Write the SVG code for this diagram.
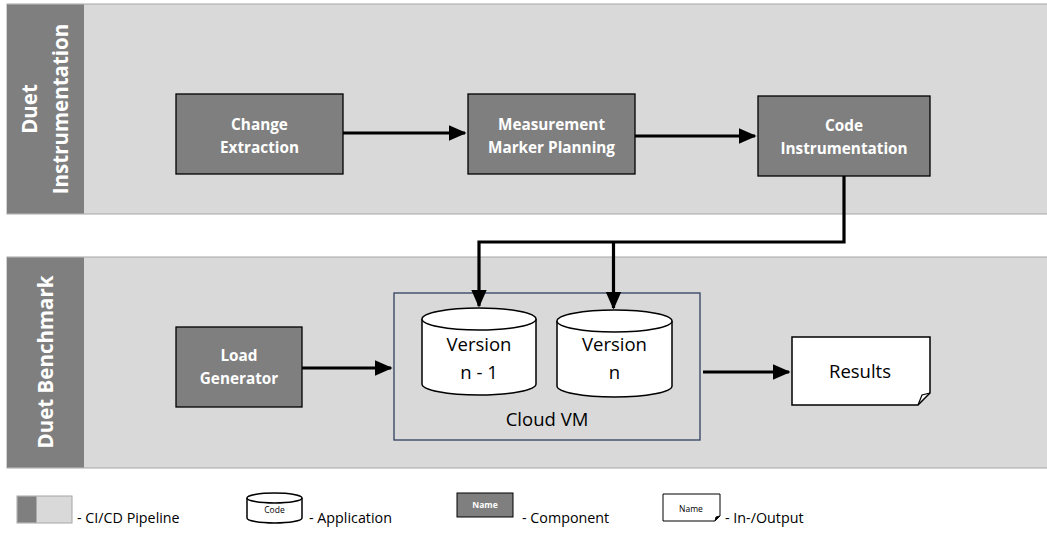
<svg xmlns="http://www.w3.org/2000/svg" width="1047" height="533" viewBox="0 0 1047 533">
<defs>
<style>
.lane{fill:#D9D9D9;stroke:#A6A6A6;stroke-width:1}
.lanehead{fill:#7F7F7F}
.lanetxt{font-family:"Open Sans",sans-serif;font-weight:bold;font-size:20.5px;fill:#FFFFFF;text-anchor:middle}
.comp{fill:#7F7F7F;stroke:#000;stroke-width:1.3}
.comptxt{font-family:"Open Sans",sans-serif;font-weight:bold;font-size:15.3px;fill:#FFFFFF;text-anchor:middle}
.app{fill:#FFFFFF;stroke:#000;stroke-width:1.5}
.apptxt{font-family:"Open Sans",sans-serif;font-size:18.5px;fill:#000;text-anchor:middle}
.conn{fill:none;stroke:#000;stroke-width:3.2}
.leg{font-family:"Open Sans",sans-serif;font-size:14.3px;fill:#000}
</style>
<marker id="ah" markerWidth="6" markerHeight="6" refX="5" refY="3" orient="auto" markerUnits="strokeWidth" viewBox="0 0 6 6">
<path d="M0,0.6 L5.5,3 L0,5.4 Z" fill="#000"/>
</marker>
</defs>
<rect width="1047" height="533" fill="#FFFFFF"/>

<g id="lane-instrumentation">
<rect class="lane" x="7" y="4" width="1045" height="210"/>
<rect class="lanehead" x="7" y="4.5" width="77" height="209"/>
<text class="lanetxt" transform="translate(46,109) rotate(-90)"><tspan x="0" y="-9">Duet</tspan><tspan x="0" y="22">Instrumentation</tspan></text>
</g>
<g id="lane-benchmark">
<rect class="lane" x="7" y="257" width="1045" height="211"/>
<rect class="lanehead" x="7" y="257.5" width="77" height="210"/>
<text class="lanetxt" transform="translate(53,362) rotate(-90)"><tspan x="0" y="0">Duet Benchmark</tspan></text>
</g>

<g id="change-extraction">
<rect class="comp" x="176" y="94" width="167" height="80"/>
<text class="comptxt" x="259.5" y="130">Change</text>
<text class="comptxt" x="259.5" y="153">Extraction</text>
</g>
<g id="measurement-marker-planning">
<rect class="comp" x="468" y="94" width="167" height="80"/>
<text class="comptxt" x="551.5" y="130">Measurement</text>
<text class="comptxt" x="551.5" y="153">Marker Planning</text>
</g>
<g id="code-instrumentation">
<rect class="comp" x="758" y="96" width="172" height="80"/>
<text class="comptxt" x="844" y="131">Code</text>
<text class="comptxt" x="844" y="154">Instrumentation</text>
</g>

<g id="cloud-vm">
<rect x="394" y="293" width="306" height="147" fill="none" stroke="#2F3F60" stroke-width="1.3"/>
<text class="apptxt" x="547" y="426" font-size="19.5">Cloud VM</text>
</g>
<g id="version-n-1">
<path class="app" d="M422,319 A57,11 0 0 1 536,319 L536,384 A57,11 0 0 1 422,384 Z"/>
<path class="app" d="M422,319 A57,11 0 0 0 536,319"/>
<text class="apptxt" x="479" y="351">Version</text>
<text class="apptxt" x="479" y="379">n - 1</text>
</g>
<g id="version-n">
<path class="app" d="M557,321 A57.5,11 0 0 1 672,321 L672,386 A57.5,11 0 0 1 557,386 Z"/>
<path class="app" d="M557,321 A57.5,11 0 0 0 672,321"/>
<text class="apptxt" x="614.5" y="351">Version</text>
<text class="apptxt" x="614.5" y="379">n</text>
</g>

<g id="load-generator">
<rect class="comp" x="176" y="327" width="126" height="80"/>
<text class="comptxt" x="239" y="361">Load</text>
<text class="comptxt" x="239" y="384">Generator</text>
</g>
<g id="results">
<path class="app" d="M792,337 L930,337 L930,393 L918,405 L792,405 Z"/>
<path d="M930,393 L922,395 L918,405" fill="none" stroke="#000" stroke-width="1.2"/>
<text class="apptxt" x="860" y="378">Results</text>
</g>

<g id="connectors">
<path class="conn" d="M343,133 L465,133" marker-end="url(#ah)"/>
<path class="conn" d="M635,136 L755,136" marker-end="url(#ah)"/>
<path class="conn" d="M844,176 L844,242 L479,242 L479,306" marker-end="url(#ah)"/>
<path class="conn" d="M613.5,242 L613.5,308" marker-end="url(#ah)"/>
<path class="conn" d="M302,368 L391,368" marker-end="url(#ah)"/>
<path class="conn" d="M703,372 L789,372" marker-end="url(#ah)"/>
</g>

<g id="legend">
<rect x="17" y="496" width="55" height="27" fill="#D9D9D9" stroke="#A6A6A6" stroke-width="1"/>
<rect x="17.5" y="496.5" width="19" height="26" fill="#7F7F7F"/>
<text class="leg" x="77" y="523">- CI/CD Pipeline</text>
<path class="app" d="M247,498 A27.5,5 0 0 1 302,498 L302,518 A27.5,5 0 0 1 247,518 Z" stroke-width="1"/>
<path class="app" d="M247,498 A27.5,5 0 0 0 302,498" stroke-width="1"/>
<text x="274.5" y="513" font-family="'Open Sans',sans-serif" font-size="8.5" text-anchor="middle">Code</text>
<text class="leg" x="309" y="523">- Application</text>
<rect x="457" y="493" width="56" height="24" fill="#7F7F7F" stroke="#000" stroke-width="1"/>
<text x="485" y="508" font-family="'Open Sans',sans-serif" font-size="8.5" font-weight="bold" fill="#FFFFFF" text-anchor="middle">Name</text>
<text class="leg" x="522" y="523">- Component</text>
<path d="M663,494 L720,494 L720,516 L715,521 L663,521 Z" fill="#FFFFFF" stroke="#000" stroke-width="1"/>
<path d="M720,516 L716,517 L715,521" fill="#000" stroke="#000" stroke-width="1"/>
<text x="691" y="512" font-family="'Open Sans',sans-serif" font-size="8.5" text-anchor="middle">Name</text>
<text class="leg" x="725" y="523">- In-/Output</text>
</g>
</svg>
